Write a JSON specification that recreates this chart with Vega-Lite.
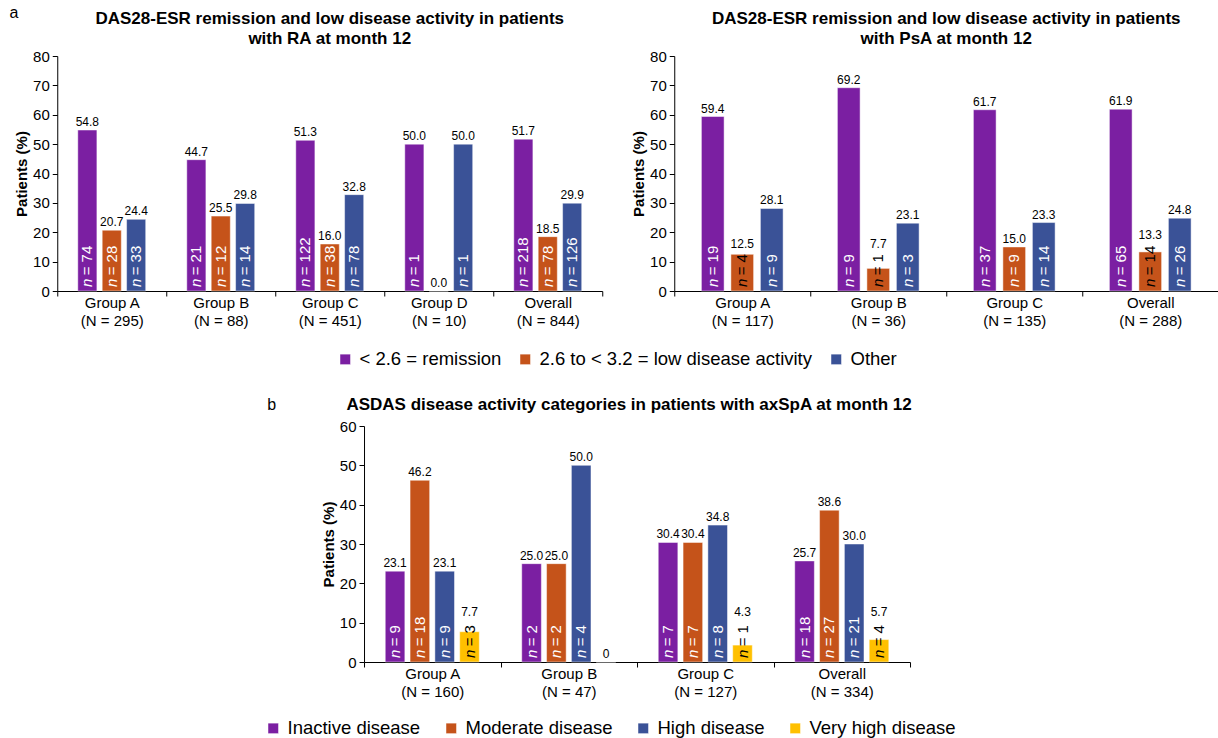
{
  "$schema": "https://vega.github.io/schema/vega-lite/v6.json",
  "padding": {"left": 9, "top": 5, "right": 0, "bottom": 0},
  "config": {
    "font": "Liberation Sans",
    "view": {"stroke": null},
    "axis": {"domainColor": "black", "tickColor": "black", "labelColor": "black", "titleColor": "black", "grid": false, "tickSize": 5, "labelFontSize": 15, "titleFontSize": 15, "titleFontWeight": "bold", "domainWidth": 1, "tickWidth": 1},
    "axisY": {"labelOverlap": false},
    "title": {"fontSize": 17, "fontWeight": "bold", "color": "black", "lineHeight": 20},
    "bar": {"stroke": "#ffffff", "strokeWidth": 0.8, "strokeOpacity": 0.6}
  },
  "title": {"text": "a", "anchor": "start", "frame": "bounds", "fontSize": 16, "fontWeight": "normal", "baseline": "alphabetic", "offset": -7, "dx": -5, "dy": 17},
  "center": true,
  "spacing": 68,
  "resolve": {"scale": {"xOffset": "independent"}},
  "vconcat": [
    {
      "spacing": 28,
      "resolve": {"scale": {"xOffset": "independent"}},
      "hconcat": [
        {
          "width": 545,
          "height": 235,
          "title": {"text": ["DAS28-ESR remission and low disease activity in patients", "with RA at month 12"], "anchor": "middle", "offset": 1},
          "data": {"values": [
            {"group": "Group A (N = 295)", "cat": "< 2.6 = remission", "pct": 54.8, "n": 74, "label": "54.8"},
            {"group": "Group A (N = 295)", "cat": "2.6 to < 3.2 = low disease activity", "pct": 20.7, "n": 28, "label": "20.7"},
            {"group": "Group A (N = 295)", "cat": "Other", "pct": 24.4, "n": 33, "label": "24.4"},
            {"group": "Group B (N = 88)", "cat": "< 2.6 = remission", "pct": 44.7, "n": 21, "label": "44.7"},
            {"group": "Group B (N = 88)", "cat": "2.6 to < 3.2 = low disease activity", "pct": 25.5, "n": 12, "label": "25.5"},
            {"group": "Group B (N = 88)", "cat": "Other", "pct": 29.8, "n": 14, "label": "29.8"},
            {"group": "Group C (N = 451)", "cat": "< 2.6 = remission", "pct": 51.3, "n": 122, "label": "51.3"},
            {"group": "Group C (N = 451)", "cat": "2.6 to < 3.2 = low disease activity", "pct": 16.0, "n": 38, "label": "16.0"},
            {"group": "Group C (N = 451)", "cat": "Other", "pct": 32.8, "n": 78, "label": "32.8"},
            {"group": "Group D (N = 10)", "cat": "< 2.6 = remission", "pct": 50.0, "n": 1, "label": "50.0"},
            {"group": "Group D (N = 10)", "cat": "2.6 to < 3.2 = low disease activity", "pct": 0.0, "label": "0.0"},
            {"group": "Group D (N = 10)", "cat": "Other", "pct": 50.0, "n": 1, "label": "50.0"},
            {"group": "Overall (N = 844)", "cat": "< 2.6 = remission", "pct": 51.7, "n": 218, "label": "51.7"},
            {"group": "Overall (N = 844)", "cat": "2.6 to < 3.2 = low disease activity", "pct": 18.5, "n": 78, "label": "18.5"},
            {"group": "Overall (N = 844)", "cat": "Other", "pct": 29.9, "n": 126, "label": "29.9"}
          ]},
          "encoding": {
            "x": {"field": "group", "type": "nominal", "sort": null, "scale": {"paddingInner": 0, "paddingOuter": 0}, "axis": {"title": null, "labelAngle": 0, "tickBand": "extent", "labelPadding": -1, "labelLineHeight": 18, "labelBaseline": "top", "labelExpr": "split(replace(datum.label, ' (', '|('), '|')"}},
            "xOffset": {"field": "cat", "type": "nominal", "scale": {"domain": ["< 2.6 = remission", "2.6 to < 3.2 = low disease activity", "Other"], "paddingInner": 0.217, "paddingOuter": 0.842}}
          },
          "layer": [
            {
              "mark": {"type": "bar"},
              "encoding": {
                "y": {"field": "pct", "type": "quantitative", "title": "Patients (%)", "scale": {"domain": [0, 80]}, "axis": {"values": [0, 10, 20, 30, 40, 50, 60, 70, 80], "labelOverlap": false, "labelPadding": 3, "titlePadding": 3}},
                "color": {"field": "cat", "type": "nominal", "scale": {"domain": ["< 2.6 = remission", "2.6 to < 3.2 = low disease activity", "Other"], "range": ["#7B1FA2", "#C5531A", "#3A5297"]}, "legend": {"title": null, "orient": "none", "legendX": 279, "legendY": 294, "direction": "horizontal", "columns": 3, "symbolType": "square", "symbolSize": 110, "symbolStrokeWidth": 0, "labelFontSize": 18.5, "labelOffset": 5, "columnPadding": 14, "labelLimit": 400, "labelColor": "black"}}
              }
            },
            {
              "transform": [{"filter": "!(datum.pct < 14 && isValid(datum.n))"}],
              "mark": {"type": "text", "fontSize": 12, "baseline": "alphabetic", "dy": -4, "color": "black"},
              "encoding": {"y": {"field": "pct", "type": "quantitative", "title": "Patients (%)", "scale": {"domain": [0, 80]}, "axis": {"values": [0, 10, 20, 30, 40, 50, 60, 70, 80], "labelOverlap": false, "labelPadding": 3, "titlePadding": 3}}, "text": {"field": "label", "type": "nominal"}}
            },
            {
              "transform": [{"filter": "isValid(datum.n)"}],
              "mark": {"type": "text", "angle": 270, "align": "left", "baseline": "middle", "fontSize": 15, "fontStyle": "italic", "dx": 4, "text": "n"},
              "encoding": {"y": {"datum": 0, "type": "quantitative", "title": "Patients (%)", "scale": {"domain": [0, 80]}, "axis": {"values": [0, 10, 20, 30, 40, 50, 60, 70, 80], "labelOverlap": false, "labelPadding": 3, "titlePadding": 3}}, "color": {"condition": {"test": "datum.pct < 14", "value": "black"}, "value": "white"}}
            },
            {
              "transform": [{"filter": "isValid(datum.n)"}],
              "mark": {"type": "text", "angle": 270, "align": "left", "baseline": "middle", "fontSize": 15, "dx": 15.7, "text": "="},
              "encoding": {"y": {"datum": 0, "type": "quantitative", "title": "Patients (%)", "scale": {"domain": [0, 80]}, "axis": {"values": [0, 10, 20, 30, 40, 50, 60, 70, 80], "labelOverlap": false, "labelPadding": 3, "titlePadding": 3}}, "color": {"condition": {"test": "datum.pct < 14", "value": "black"}, "value": "white"}}
            },
            {
              "transform": [{"filter": "isValid(datum.n)"}],
              "mark": {"type": "text", "angle": 270, "align": "left", "baseline": "middle", "fontSize": 15, "dx": 28.6},
              "encoding": {"y": {"datum": 0, "type": "quantitative", "title": "Patients (%)", "scale": {"domain": [0, 80]}, "axis": {"values": [0, 10, 20, 30, 40, 50, 60, 70, 80], "labelOverlap": false, "labelPadding": 3, "titlePadding": 3}}, "text": {"field": "n", "type": "quantitative"}, "color": {"condition": {"test": "datum.pct < 14", "value": "black"}, "value": "white"}}
            }
          ]
        },
        {
          "width": 544,
          "height": 235,
          "title": {"text": ["DAS28-ESR remission and low disease activity in patients", "with PsA at month 12"], "anchor": "middle", "offset": 1},
          "data": {"values": [
            {"group": "Group A (N = 117)", "cat": "< 2.6 = remission", "pct": 59.4, "n": 19, "label": "59.4"},
            {"group": "Group A (N = 117)", "cat": "2.6 to < 3.2 = low disease activity", "pct": 12.5, "n": 4, "label": "12.5"},
            {"group": "Group A (N = 117)", "cat": "Other", "pct": 28.1, "n": 9, "label": "28.1"},
            {"group": "Group B (N = 36)", "cat": "< 2.6 = remission", "pct": 69.2, "n": 9, "label": "69.2"},
            {"group": "Group B (N = 36)", "cat": "2.6 to < 3.2 = low disease activity", "pct": 7.7, "n": 1, "label": "7.7"},
            {"group": "Group B (N = 36)", "cat": "Other", "pct": 23.1, "n": 3, "label": "23.1"},
            {"group": "Group C (N = 135)", "cat": "< 2.6 = remission", "pct": 61.7, "n": 37, "label": "61.7"},
            {"group": "Group C (N = 135)", "cat": "2.6 to < 3.2 = low disease activity", "pct": 15.0, "n": 9, "label": "15.0"},
            {"group": "Group C (N = 135)", "cat": "Other", "pct": 23.3, "n": 14, "label": "23.3"},
            {"group": "Overall (N = 288)", "cat": "< 2.6 = remission", "pct": 61.9, "n": 65, "label": "61.9"},
            {"group": "Overall (N = 288)", "cat": "2.6 to < 3.2 = low disease activity", "pct": 13.3, "n": 14, "label": "13.3"},
            {"group": "Overall (N = 288)", "cat": "Other", "pct": 24.8, "n": 26, "label": "24.8"}
          ]},
          "encoding": {
            "x": {"field": "group", "type": "nominal", "sort": null, "scale": {"paddingInner": 0, "paddingOuter": 0}, "axis": {"title": null, "labelAngle": 0, "tickBand": "extent", "labelPadding": -1, "labelLineHeight": 18, "labelBaseline": "top", "labelExpr": "split(replace(datum.label, ' (', '|('), '|')"}},
            "xOffset": {"field": "cat", "type": "nominal", "scale": {"domain": ["< 2.6 = remission", "2.6 to < 3.2 = low disease activity", "Other"], "paddingInner": 0.23, "paddingOuter": 0.92}}
          },
          "layer": [
            {
              "mark": {"type": "bar"},
              "encoding": {
                "y": {"field": "pct", "type": "quantitative", "title": "Patients (%)", "scale": {"domain": [0, 80]}, "axis": {"values": [0, 10, 20, 30, 40, 50, 60, 70, 80], "labelOverlap": false, "labelPadding": 3, "titlePadding": 3}},
                "color": {"field": "cat", "type": "nominal", "scale": {"domain": ["< 2.6 = remission", "2.6 to < 3.2 = low disease activity", "Other"], "range": ["#7B1FA2", "#C5531A", "#3A5297"]}, "legend": {"title": null, "orient": "none", "legendX": 279, "legendY": 294, "direction": "horizontal", "columns": 3, "symbolType": "square", "symbolSize": 110, "symbolStrokeWidth": 0, "labelFontSize": 18.5, "labelOffset": 5, "columnPadding": 14, "labelLimit": 400, "labelColor": "black"}}
              }
            },
            {
              "transform": [{"filter": "!(datum.pct < 14 && isValid(datum.n))"}],
              "mark": {"type": "text", "fontSize": 12, "baseline": "alphabetic", "dy": -4, "color": "black"},
              "encoding": {"y": {"field": "pct", "type": "quantitative", "title": "Patients (%)", "scale": {"domain": [0, 80]}, "axis": {"values": [0, 10, 20, 30, 40, 50, 60, 70, 80], "labelOverlap": false, "labelPadding": 3, "titlePadding": 3}}, "text": {"field": "label", "type": "nominal"}}
            },
            {
              "transform": [{"filter": "datum.pct < 14 && isValid(datum.n) && datum.n < 10"}],
              "mark": {"type": "text", "fontSize": 12, "baseline": "alphabetic", "dy": -43, "color": "black"},
              "encoding": {"y": {"datum": 0, "type": "quantitative", "title": "Patients (%)", "scale": {"domain": [0, 80]}, "axis": {"values": [0, 10, 20, 30, 40, 50, 60, 70, 80], "labelOverlap": false, "labelPadding": 3, "titlePadding": 3}}, "text": {"field": "label", "type": "nominal"}}
            },
            {
              "transform": [{"filter": "datum.pct < 14 && isValid(datum.n) && datum.n >= 10"}],
              "mark": {"type": "text", "fontSize": 12, "baseline": "alphabetic", "dy": -52, "color": "black"},
              "encoding": {"y": {"datum": 0, "type": "quantitative", "title": "Patients (%)", "scale": {"domain": [0, 80]}, "axis": {"values": [0, 10, 20, 30, 40, 50, 60, 70, 80], "labelOverlap": false, "labelPadding": 3, "titlePadding": 3}}, "text": {"field": "label", "type": "nominal"}}
            },
            {
              "transform": [{"filter": "isValid(datum.n)"}],
              "mark": {"type": "text", "angle": 270, "align": "left", "baseline": "middle", "fontSize": 15, "fontStyle": "italic", "dx": 4, "text": "n"},
              "encoding": {"y": {"datum": 0, "type": "quantitative", "title": "Patients (%)", "scale": {"domain": [0, 80]}, "axis": {"values": [0, 10, 20, 30, 40, 50, 60, 70, 80], "labelOverlap": false, "labelPadding": 3, "titlePadding": 3}}, "color": {"condition": {"test": "datum.pct < 14", "value": "black"}, "value": "white"}}
            },
            {
              "transform": [{"filter": "isValid(datum.n)"}],
              "mark": {"type": "text", "angle": 270, "align": "left", "baseline": "middle", "fontSize": 15, "dx": 15.7, "text": "="},
              "encoding": {"y": {"datum": 0, "type": "quantitative", "title": "Patients (%)", "scale": {"domain": [0, 80]}, "axis": {"values": [0, 10, 20, 30, 40, 50, 60, 70, 80], "labelOverlap": false, "labelPadding": 3, "titlePadding": 3}}, "color": {"condition": {"test": "datum.pct < 14", "value": "black"}, "value": "white"}}
            },
            {
              "transform": [{"filter": "isValid(datum.n)"}],
              "mark": {"type": "text", "angle": 270, "align": "left", "baseline": "middle", "fontSize": 15, "dx": 28.6},
              "encoding": {"y": {"datum": 0, "type": "quantitative", "title": "Patients (%)", "scale": {"domain": [0, 80]}, "axis": {"values": [0, 10, 20, 30, 40, 50, 60, 70, 80], "labelOverlap": false, "labelPadding": 3, "titlePadding": 3}}, "text": {"field": "n", "type": "quantitative"}, "color": {"condition": {"test": "datum.pct < 14", "value": "black"}, "value": "white"}}
            }
          ]
        }
      ]
    },
    {
      "title": {"text": "b", "anchor": "start", "frame": "bounds", "fontSize": 16, "fontWeight": "normal", "baseline": "alphabetic", "offset": -14, "dx": -54, "dy": 16},
      "vconcat": [
        {
          "width": 546,
          "height": 236,
          "title": {"text": "ASDAS disease activity categories in patients with axSpA at month 12", "anchor": "middle", "offset": 5, "dx": -8},
          "data": {"values": [
            {"group": "Group A (N = 160)", "cat": "Inactive disease", "pct": 23.1, "n": 9, "label": "23.1"},
            {"group": "Group A (N = 160)", "cat": "Moderate disease", "pct": 46.2, "n": 18, "label": "46.2"},
            {"group": "Group A (N = 160)", "cat": "High disease", "pct": 23.1, "n": 9, "label": "23.1"},
            {"group": "Group A (N = 160)", "cat": "Very high disease", "pct": 7.7, "n": 3, "label": "7.7"},
            {"group": "Group B (N = 47)", "cat": "Inactive disease", "pct": 25.0, "n": 2, "label": "25.0"},
            {"group": "Group B (N = 47)", "cat": "Moderate disease", "pct": 25.0, "n": 2, "label": "25.0"},
            {"group": "Group B (N = 47)", "cat": "High disease", "pct": 50.0, "n": 4, "label": "50.0"},
            {"group": "Group B (N = 47)", "cat": "Very high disease", "pct": 0, "label": "0"},
            {"group": "Group C (N = 127)", "cat": "Inactive disease", "pct": 30.4, "n": 7, "label": "30.4"},
            {"group": "Group C (N = 127)", "cat": "Moderate disease", "pct": 30.4, "n": 7, "label": "30.4"},
            {"group": "Group C (N = 127)", "cat": "High disease", "pct": 34.8, "n": 8, "label": "34.8"},
            {"group": "Group C (N = 127)", "cat": "Very high disease", "pct": 4.3, "n": 1, "label": "4.3"},
            {"group": "Overall (N = 334)", "cat": "Inactive disease", "pct": 25.7, "n": 18, "label": "25.7"},
            {"group": "Overall (N = 334)", "cat": "Moderate disease", "pct": 38.6, "n": 27, "label": "38.6"},
            {"group": "Overall (N = 334)", "cat": "High disease", "pct": 30.0, "n": 21, "label": "30.0"},
            {"group": "Overall (N = 334)", "cat": "Very high disease", "pct": 5.7, "n": 4, "label": "5.7"}
          ]},
          "encoding": {
            "x": {"field": "group", "type": "nominal", "sort": null, "scale": {"paddingInner": 0, "paddingOuter": 0}, "axis": {"title": null, "labelAngle": 0, "tickBand": "extent", "labelPadding": -1, "labelLineHeight": 18, "labelBaseline": "top", "labelExpr": "split(replace(datum.label, ' (', '|('), '|')"}},
            "xOffset": {"field": "cat", "type": "nominal", "scale": {"domain": ["Inactive disease", "Moderate disease", "High disease", "Very high disease"], "paddingInner": 0.21, "paddingOuter": 0.855}}
          },
          "layer": [
            {
              "mark": {"type": "bar"},
              "encoding": {
                "y": {"field": "pct", "type": "quantitative", "title": "Patients (%)", "scale": {"domain": [0, 60]}, "axis": {"values": [0, 10, 20, 30, 40, 50, 60], "labelOverlap": false, "labelPadding": 3, "titlePadding": 3}},
                "fill": {"field": "cat", "type": "nominal", "scale": {"domain": ["Inactive disease", "Moderate disease", "High disease", "Very high disease"], "range": ["#7B1FA2", "#C5531A", "#3A5297", "#FFC000"]}, "legend": {"title": null, "orient": "none", "legendX": 207, "legendY": 663, "direction": "horizontal", "columns": 4, "symbolType": "square", "symbolSize": 110, "symbolStrokeWidth": 0, "labelFontSize": 18.5, "labelOffset": 5, "columnPadding": 21, "labelLimit": 400, "labelColor": "black"}}
              }
            },
            {
              "transform": [{"filter": "!(datum.pct < 14 && isValid(datum.n))"}],
              "mark": {"type": "text", "fontSize": 12, "baseline": "alphabetic", "dy": -4, "color": "black"},
              "encoding": {"y": {"field": "pct", "type": "quantitative", "title": "Patients (%)", "scale": {"domain": [0, 60]}, "axis": {"values": [0, 10, 20, 30, 40, 50, 60], "labelOverlap": false, "labelPadding": 3, "titlePadding": 3}}, "text": {"field": "label", "type": "nominal"}}
            },
            {
              "transform": [{"filter": "datum.pct < 14 && isValid(datum.n)"}],
              "mark": {"type": "text", "fontSize": 12, "baseline": "alphabetic", "dy": -46, "color": "black"},
              "encoding": {"y": {"datum": 0, "type": "quantitative", "title": "Patients (%)", "scale": {"domain": [0, 60]}, "axis": {"values": [0, 10, 20, 30, 40, 50, 60], "labelOverlap": false, "labelPadding": 3, "titlePadding": 3}}, "text": {"field": "label", "type": "nominal"}}
            },
            {
              "transform": [{"filter": "isValid(datum.n)"}],
              "mark": {"type": "text", "angle": 270, "align": "left", "baseline": "middle", "fontSize": 15, "fontStyle": "italic", "dx": 4, "text": "n"},
              "encoding": {"y": {"datum": 0, "type": "quantitative", "title": "Patients (%)", "scale": {"domain": [0, 60]}, "axis": {"values": [0, 10, 20, 30, 40, 50, 60], "labelOverlap": false, "labelPadding": 3, "titlePadding": 3}}, "color": {"condition": {"test": "datum.pct < 14", "value": "black"}, "value": "white"}}
            },
            {
              "transform": [{"filter": "isValid(datum.n)"}],
              "mark": {"type": "text", "angle": 270, "align": "left", "baseline": "middle", "fontSize": 15, "dx": 15.7, "text": "="},
              "encoding": {"y": {"datum": 0, "type": "quantitative", "title": "Patients (%)", "scale": {"domain": [0, 60]}, "axis": {"values": [0, 10, 20, 30, 40, 50, 60], "labelOverlap": false, "labelPadding": 3, "titlePadding": 3}}, "color": {"condition": {"test": "datum.pct < 14", "value": "black"}, "value": "white"}}
            },
            {
              "transform": [{"filter": "isValid(datum.n)"}],
              "mark": {"type": "text", "angle": 270, "align": "left", "baseline": "middle", "fontSize": 15, "dx": 28.6},
              "encoding": {"y": {"datum": 0, "type": "quantitative", "title": "Patients (%)", "scale": {"domain": [0, 60]}, "axis": {"values": [0, 10, 20, 30, 40, 50, 60], "labelOverlap": false, "labelPadding": 3, "titlePadding": 3}}, "text": {"field": "n", "type": "quantitative"}, "color": {"condition": {"test": "datum.pct < 14", "value": "black"}, "value": "white"}}
            }
          ]
        }
      ]
    }
  ]
}
